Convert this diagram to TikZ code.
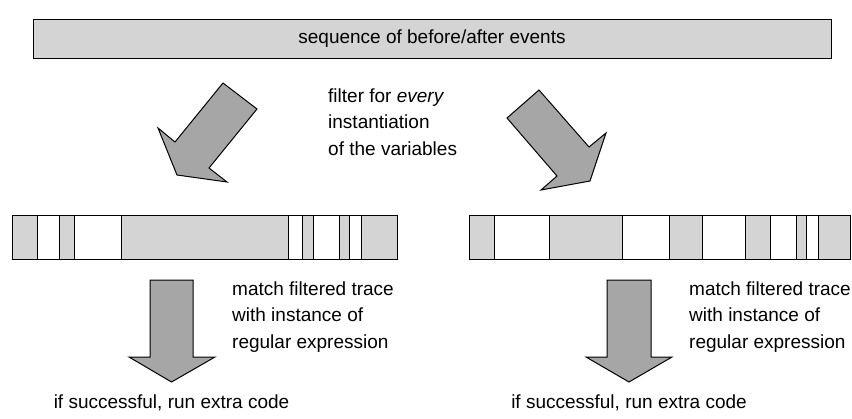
\documentclass[tikz,border=0pt]{standalone}
\usepackage{fontspec}
\setmainfont{Liberation Sans}
\usetikzlibrary{positioning}

\definecolor{barfill}{RGB}{212,212,212}
\definecolor{arrowfill}{RGB}{166,166,166}

\tikzset{
  bar/.style={draw, fill=barfill, line width=1pt},
  slot/.style={draw, fill=white, line width=1pt},
  blockarrow/.style={draw, fill=arrowfill, line width=1pt, line join=miter},
  txt/.style={font=\fontsize{19}{26.5}\selectfont, inner sep=0pt, align=left}
}

\begin{document}
\begin{tikzpicture}[x=1pt, y=-1pt]
  \useasboundingbox (0,0) rectangle (852,418);
  % events
  \node[bar, txt, minimum width=798pt, minimum height=39pt] (events) at (432,38.5) {sequence of before/after events};
  % filtering arrows
  \draw[blockarrow] (223,83) -- (257,109) -- (209,168) -- (227,182) -- (177,175) -- (158,128) -- (175,142) -- cycle;
  \draw[blockarrow] (539,90) -- (507,118) -- (557,176) -- (541,190) -- (590,181) -- (606,133) -- (589,147) -- cycle;
  \node[txt, anchor=west] (filter) at (328,122) {filter for \textit{every}\\instantiation\\of the variables};
  % filtered traces
  \draw[bar] (12,215) rectangle (397,259);
  \foreach \a/\b in {37/59, 74/121, 288/302, 313/339, 349/361}
    \draw[slot] (\a,215) rectangle (\b,259);
  \draw[bar] (469,215) rectangle (850,259);
  \foreach \a/\b in {494/549, 622/669, 702/745, 770/796, 806/818}
    \draw[slot] (\a,215) rectangle (\b,259);
  % matching arrows
  \draw[blockarrow] (150,280) -- (193,280) -- (193,357) -- (215,357) -- (171.5,382) -- (129,357) -- (150,357) -- cycle;
  \draw[blockarrow] (607,280) -- (651,280) -- (651,357) -- (672,357) -- (629,382) -- (586,357) -- (607,357) -- cycle;
  \node[txt, anchor=west] (matchL) at (232,317) {match filtered trace\\with instance of\\regular expression};
  \node[txt, anchor=west] (matchR) at (689,317) {match filtered trace\\with instance of\\regular expression};
  % extra code
  \node[txt] (codeL) at (171.5,403) {if successful, run extra code};
  \node[txt] (codeR) at (629,403) {if successful, run extra code};
\end{tikzpicture}
\end{document}
